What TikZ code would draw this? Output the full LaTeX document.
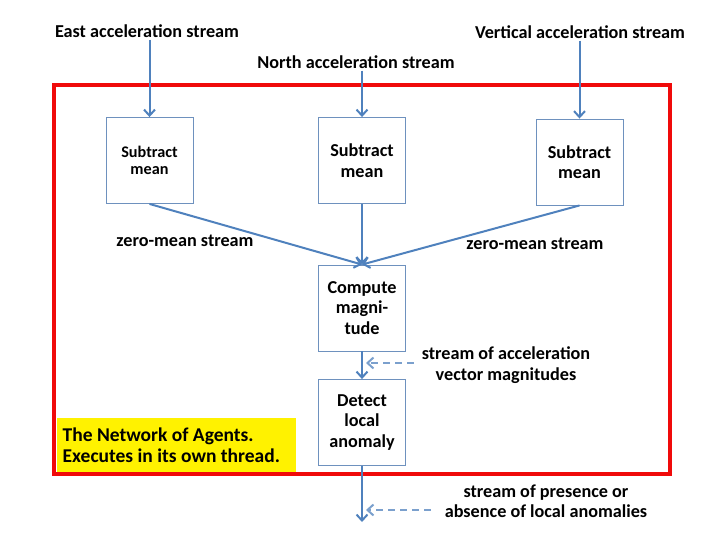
\documentclass[tikz,border=0pt]{standalone}
\usepackage{fontspec}
\setmainfont{Carlito}
\usetikzlibrary{arrows.meta}
\definecolor{flowblue}{RGB}{79,129,189}
\definecolor{boxline}{RGB}{110,145,190}
\definecolor{framered}{RGB}{240,10,10}

\begin{document}
\begin{tikzpicture}[x=1pt,y=-1pt,font=\bfseries\fontsize{18.2}{20.5}\selectfont,
  box/.style={draw=boxline,line width=0.9pt,minimum width=87pt,minimum height=86pt,align=center,inner sep=2pt},
  lbl/.style={align=center,inner sep=2pt},
  flow/.style={draw=flowblue,line width=2pt,-{Straight Barb[length=6pt,width=11pt]}},
  tap/.style={flow,dash pattern=on 7pt off 5pt,draw=flowblue!75}]
  \useasboundingbox (0,0) rectangle (720,540);
  \draw[framered,line width=4.5pt] (54,85) rectangle (670,474);
  \node[fill=yellow,minimum height=54pt,text width=227pt,align=flush left,inner sep=6pt,anchor=north west,font=\bfseries\fontsize{19.5}{21}\selectfont] (agents) at (56.5,418) {The Network of Agents.\\Executes in its own thread.};

  \node[lbl] (east) at (147,31) {East acceleration stream};
  \node[lbl] (north) at (356,62) {North acceleration stream};
  \node[lbl] (vert) at (580,32) {Vertical acceleration stream};

  \node[box,font=\bfseries\fontsize{16.2}{17}\selectfont] (sub1) at (149.5,160.5) {Subtract\\mean};
  \node[box] (sub2) at (362,160.5) {Subtract\\mean};
  \node[box] (sub3) at (579.5,162) {Subtract\\mean};
  \node[box] (cm) at (362,308) {Compute\\magni-\\tude};
  \node[box] (dt) at (362,422.5) {Detect\\local\\anomaly};

  \node[lbl] (zero1) at (185,241) {zero-mean stream};
  \node[lbl] (zero2) at (535,244) {zero-mean stream};
  \node[lbl] (magnote) at (506,365) {stream of acceleration\\vector magnitudes};
  \node[lbl] (outnote) at (546,501) {stream of presence or\\absence of local anomalies};

  \coordinate (out) at (362,522);
  \coordinate (tap1) at (366,363);
  \coordinate (tap2) at (366,510);

  \draw[flow] (sub1.north |- east.south) -- (sub1.north);
  \draw[flow] (sub2.north |- north.south) -- (sub2.north);
  \draw[flow] (sub3.north |- vert.south) -- (sub3.north);
  \draw[flow] (sub1.south) -- (cm.north);
  \draw[flow] (sub2.south) -- (cm.north);
  \draw[flow] (sub3.south) -- (cm.north);
  \draw[flow] (cm.south) -- (dt.north);
  \draw[flow] (dt.south) -- (out);
  \draw[tap] ([xshift=-6pt]magnote.west |- tap1) -- (tap1);
  \draw[tap] ([xshift=-12pt]outnote.west |- tap2) -- (tap2);
\end{tikzpicture}
\end{document}
